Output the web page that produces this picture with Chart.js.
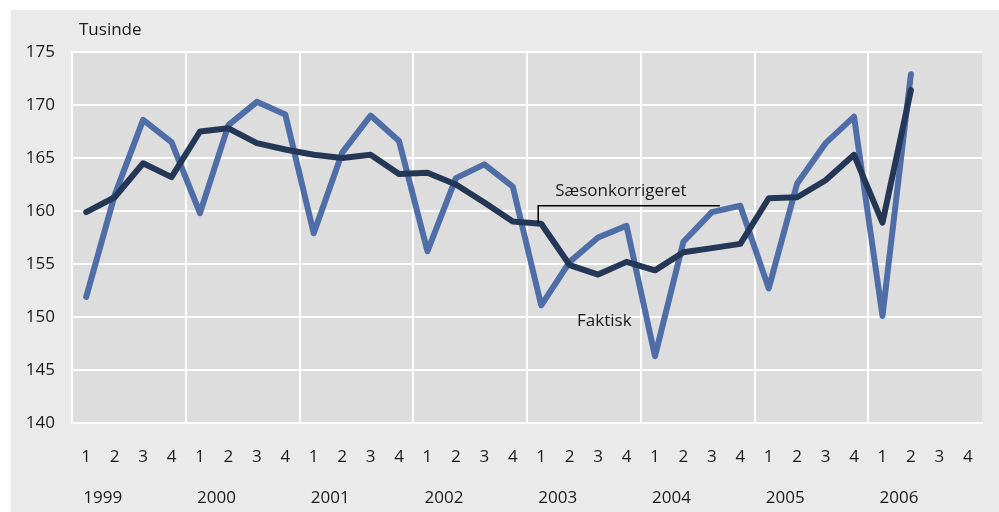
<!DOCTYPE html>
<html>
<head>
<meta charset="utf-8">
<script src="https://cdn.jsdelivr.net/npm/chart.js@4.4.1/dist/chart.umd.min.js"></script>
<style>
  html, body { margin: 0; padding: 0; background: #fff; }
  #panel { position: absolute; left: 11px; top: 10px; width: 988px; height: 502px; background: #eaeaea; }
  #chart { position: absolute; left: 0; top: 0; }
</style>
</head>
<body>
<div id="panel"></div>
<canvas id="chart" width="999" height="512"></canvas>
<script>
// quarterly data 1999 - 2006, thousands
const years = ['1999', '2000', '2001', '2002', '2003', '2004', '2005', '2006'];
const quarters = ['1', '2', '3', '4'];

const faktisk = [
    151.9, 161.5, 168.6, 166.5,
    159.8, 168.1, 170.3, 169.1,
    157.9, 165.5, 169.0, 166.6,
    156.2, 163.1, 164.4, 162.3,
    151.1, 155.2, 157.5, 158.6,
    146.3, 157.1, 159.9, 160.5,
    152.7, 162.6, 166.4, 168.9,
    150.1, 172.9, null, null
];
const saesonkorrigeret = [
    159.9, 161.3, 164.5, 163.2,
    167.5, 167.8, 166.4, 165.8,
    165.3, 165.0, 165.3, 163.5,
    163.6, 162.5, 160.8, 159.0,
    158.8, 154.9, 154.0, 155.2,
    154.4, 156.1, 156.5, 156.9,
    161.2, 161.3, 162.9, 165.3,
    158.9, 171.4, null, null
];
const yTicks = [140, 145, 150, 155, 160, 165, 170, 175];

const labels = [];
years.forEach(y => quarters.forEach(q => labels.push(q)));

const FONT = "'Open Sans', sans-serif";
const FSIZE = 17;
const TEXT = '#1a1a1a';

const backgroundPlugin = {
    id: 'plotBg',
    beforeDraw(chart) {
        const a = chart.chartArea;
        const ctx = chart.ctx;
        ctx.save();
        ctx.fillStyle = '#dddddd';
        ctx.fillRect(a.left, a.top, a.right - a.left, a.bottom - a.top);
        ctx.restore();
    }
};

const textPlugin = {
    id: 'texts',
    afterDraw(chart) {
        const ctx = chart.ctx;
        const x = chart.scales.x;
        const y = chart.scales.y;
        ctx.save();
        ctx.fillStyle = TEXT;
        ctx.font = FSIZE + 'px ' + FONT;
        ctx.textBaseline = 'middle';

        // year row
        ctx.textAlign = 'left';
        years.forEach((yr, i) => {
            ctx.fillText(yr, x.getPixelForValue(i * 4) - 3, 498);
        });

        // unit
        ctx.fillText('Tusinde', 79, 30);

        // series labels
        const lx = x.getPixelForValue(16) - 3;
        const ly = y.getPixelForValue(160.5);
        ctx.fillText('Sæsonkorrigeret', lx + 17, ly - 15);
        ctx.fillText('Faktisk', x.getPixelForValue(18) - 21, y.getPixelForValue(149.6));

        ctx.strokeStyle = '#000';
        ctx.lineWidth = 1.5;
        ctx.beginPath();
        ctx.moveTo(lx, y.getPixelForValue(saesonkorrigeret[16]) - 1);
        ctx.lineTo(lx, ly);
        ctx.lineTo(x.getPixelForValue(22) + 8, ly);
        ctx.stroke();
        ctx.restore();
    }
};

new Chart(document.getElementById('chart'), {
    type: 'line',
    plugins: [backgroundPlugin, textPlugin],
    data: {
        labels: labels,
        datasets: [{
            label: 'Sæsonkorrigeret',
            data: saesonkorrigeret,
            borderColor: '#253756',
            borderWidth: 6,
            borderCapStyle: 'round',
            borderJoinStyle: 'round',
            pointRadius: 0,
            tension: 0,
            order: 0
        }, {
            label: 'Faktisk',
            data: faktisk,
            borderColor: '#4f6da6',
            borderWidth: 6,
            borderCapStyle: 'round',
            borderJoinStyle: 'round',
            pointRadius: 0,
            tension: 0,
            order: 1
        }]
    },
    options: {
        responsive: false,
        animation: false,
        layout: {
            padding: { left: 0, right: 17, top: 52, bottom: 0 }
        },
        plugins: {
            legend: { display: false },
            tooltip: { enabled: false }
        },
        scales: {
            x: {
                type: 'category',
                offset: true,
                afterFit(scale) { scale.height = 89; },
                grid: {
                    offset: true,
                    drawTicks: false,
                    lineWidth: 2,
                    color: ctx => (ctx.index % 4 === 0 ? '#ffffff' : 'rgba(0,0,0,0)')
                },
                border: { display: true, color: '#ffffff', width: 2 },
                ticks: {
                    color: TEXT,
                    font: { family: FONT, size: FSIZE },
                    padding: 24,
                    maxRotation: 0,
                    autoSkip: false
                }
            },
            y: {
                min: 140,
                max: 175,
                afterFit(scale) { scale.width = 72; },
                afterBuildTicks(scale) { scale.ticks = yTicks.map(v => ({ value: v })); },
                grid: {
                    drawTicks: false,
                    lineWidth: 2,
                    color: '#ffffff'
                },
                border: { display: true, color: '#ffffff', width: 2 },
                ticks: {
                    color: TEXT,
                    font: { family: FONT, size: FSIZE },
                    padding: 17
                }
            }
        }
    }
});
</script>
</body>
</html>
